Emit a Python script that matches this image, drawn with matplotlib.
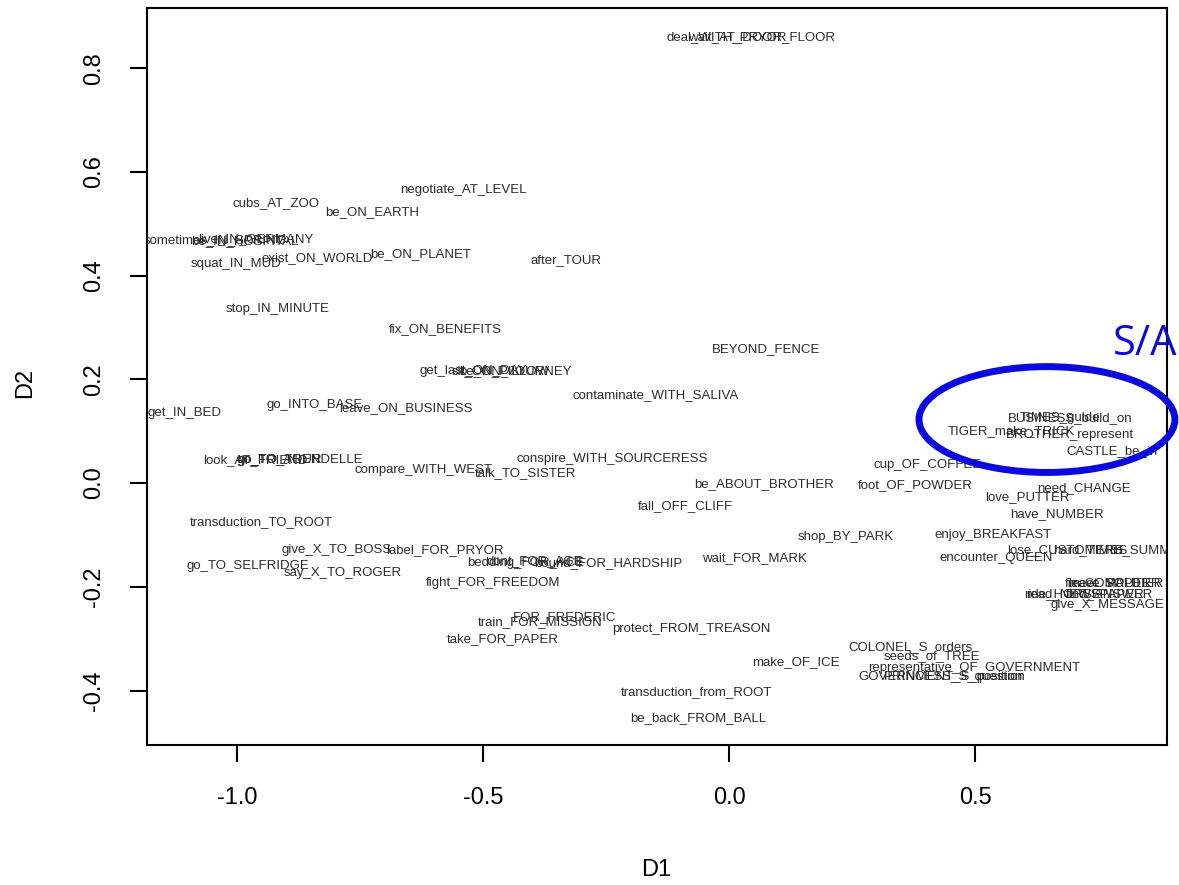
import matplotlib.pyplot as plt
from matplotlib.patches import Ellipse

# MDS configuration: label text and its D1 / D2 coordinates
labels = [
    'deal_WITH_PRYOR', 'wait_AT_DOOR_FLOOR',
    'negotiate_AT_LEVEL', 'cubs_AT_ZOO', 'be_ON_EARTH',
    'sometimes_IN_SPRING', 'live_IN_GERMANY', 'be_IN_HOSPITAL',
    'squat_IN_MUD', 'exist_ON_WORLD', 'be_ON_PLANET', 'after_TOUR',
    'stop_IN_MINUTE', 'fix_ON_BENEFITS', 'BEYOND_FENCE',
    'get_last_ON_DAY', 'sit_ON_PILLOW', 'be_ON_JOURNEY',
    'contaminate_WITH_SALIVA', 'get_IN_BED', 'go_INTO_BASE', 'leave_ON_BUSINESS',
    'look_AT_FRIEND', 'go_TO_TOUR', 'go_TO_ARENDELLE',
    'compare_WITH_WEST', 'talk_TO_SISTER', 'conspire_WITH_SOURCERESS',
    'be_ABOUT_BROTHER', 'fall_OFF_CLIFF', 'cup_OF_COFFEE', 'foot_OF_POWDER',
    'TIGER_make_TRICK', 'BROTHER_represent', 'BUSINESS_build_on', 'TIMES_guide',
    'CASTLE_be_in', 'need_CHANGE', 'love_PUTTER', 'have_NUMBER',
    'enjoy_BREAKFAST', 'encounter_QUEEN', 'lose_CUSTOMERS', 'hard_TIMES', 'in_SUMMER',
    'leave_PAPER', 'meet_SOLDIER', 'fix_COMPUTER',
    'ride_HORSE', 'read_NEWSPAPER', 'find_ANSWER', 'give_X_MESSAGE',
    'shop_BY_PARK', 'wait_FOR_MARK', 'transduction_TO_ROOT', 'give_X_TO_BOSS',
    'label_FOR_PRYOR', 'go_TO_SELFRIDGE', 'say_X_TO_ROGER',
    'bedding_FOR_ACE', 'dont_FOR_AGE', 'bound_FOR_HARDSHIP', 'fight_FOR_FREEDOM',
    'train_FOR_MISSION', 'FOR_FREDERIC', 'protect_FROM_TREASON', 'take_FOR_PAPER',
    'make_OF_ICE', 'COLONEL_S_orders', 'seeds_of_TREE',
    'representative_OF_GOVERNMENT', 'GOVERNMENT_S_position', 'PRINCESS_S_question',
    'transduction_from_ROOT', 'be_back_FROM_BALL',
]
d1 = [
    -0.005, 0.065,
    -0.539, -0.921, -0.726,
    -1.045, -0.961, -0.984,
    -1.002, -0.837, -0.626, -0.331,
    -0.917, -0.577, 0.075,
    -0.520, -0.465, -0.435,
    -0.150, -1.106, -0.843, -0.657,
    -0.963, -0.913, -0.872,
    -0.622, -0.413, -0.238,
    0.071, -0.089, 0.404, 0.378,
    0.573, 0.693, 0.693, 0.673,
    0.778, 0.722, 0.606, 0.667,
    0.537, 0.543, 0.683, 0.734, 0.856,
    0.774, 0.785, 0.780,
    0.677, 0.724, 0.774, 0.768,
    0.238, 0.051, -0.951, -0.797,
    -0.577, -0.978, -0.785,
    -0.413, -0.394, -0.246, -0.480,
    -0.384, -0.335, -0.077, -0.459,
    0.136, 0.368, 0.413,
    0.498, 0.429, 0.459,
    -0.067, -0.063,
]
d2 = [
    0.860, 0.860,
    0.565, 0.540, 0.523,
    0.469, 0.471, 0.467,
    0.422, 0.434, 0.442, 0.430,
    0.336, 0.297, 0.258,
    0.216, 0.216, 0.216,
    0.170, 0.135, 0.150, 0.145,
    0.044, 0.044, 0.044,
    0.025, 0.019, 0.046,
    -0.002, -0.044, 0.035, -0.004,
    0.100, 0.093, 0.125, 0.125,
    0.062, -0.010, -0.027, -0.060,
    -0.100, -0.145, -0.129, -0.129, -0.129,
    -0.193, -0.193, -0.193,
    -0.214, -0.214, -0.214, -0.235,
    -0.104, -0.145, -0.075, -0.129,
    -0.129, -0.160, -0.174,
    -0.154, -0.150, -0.154, -0.193,
    -0.268, -0.258, -0.282, -0.301,
    -0.345, -0.316, -0.334,
    -0.357, -0.374, -0.374,
    -0.403, -0.453,
]

x_ticks = [-1.0, -0.5, 0.0, 0.5]
y_ticks = [-0.4, -0.2, 0.0, 0.2, 0.4, 0.6, 0.8]

fig = plt.figure(figsize=(11.79, 8.85), dpi=100)
ax = fig.add_axes([147 / 1179, 1 - 745 / 885, 1020 / 1179, 737 / 885])

for lab, x, y in zip(labels, d1, d2):
    ax.text(x, y, lab, ha='center', va='center', fontsize=9.5,
            family='Liberation Sans', color='#2b2b2b', clip_on=True)

ax.set_xlim(-1.183, 0.890)
ax.set_ylim(-0.505, 0.916)
ax.set_xticks(x_ticks)
ax.set_xticklabels([f'{v:.1f}' for v in x_ticks])
ax.set_yticks(y_ticks)
ax.set_yticklabels([f'{v:.1f}' for v in y_ticks], rotation=90, va='center')
ax.tick_params(direction='out', length=12, width=1.5, labelsize=17, pad=18)
for lab in ax.get_xticklabels() + ax.get_yticklabels():
    lab.set_family('Liberation Sans')
for sp in ax.spines.values():
    sp.set_linewidth(1.5)

fig.text(656 / 1179, 1 - 870 / 885, 'D1', ha='center', va='center',
         fontsize=17, family='Liberation Sans')
fig.text(25 / 1179, 1 - 383 / 885, 'D2', ha='center', va='center',
         fontsize=17, family='Liberation Sans', rotation=90)

# hand-drawn highlight of the S/A cluster
ell = Ellipse((0.646, 0.1225), 0.520, 0.204, fill=False, edgecolor='#0A0ADC',
              linewidth=5, clip_on=False, zorder=5)
ax.add_patch(ell)
fig.text(1113 / 1179, 1 - 355 / 885, 'S/A', ha='left', va='baseline',
         fontsize=30, family='Open Sans', color='#0A0ADC')

fig.savefig('out.png', dpi=100)
